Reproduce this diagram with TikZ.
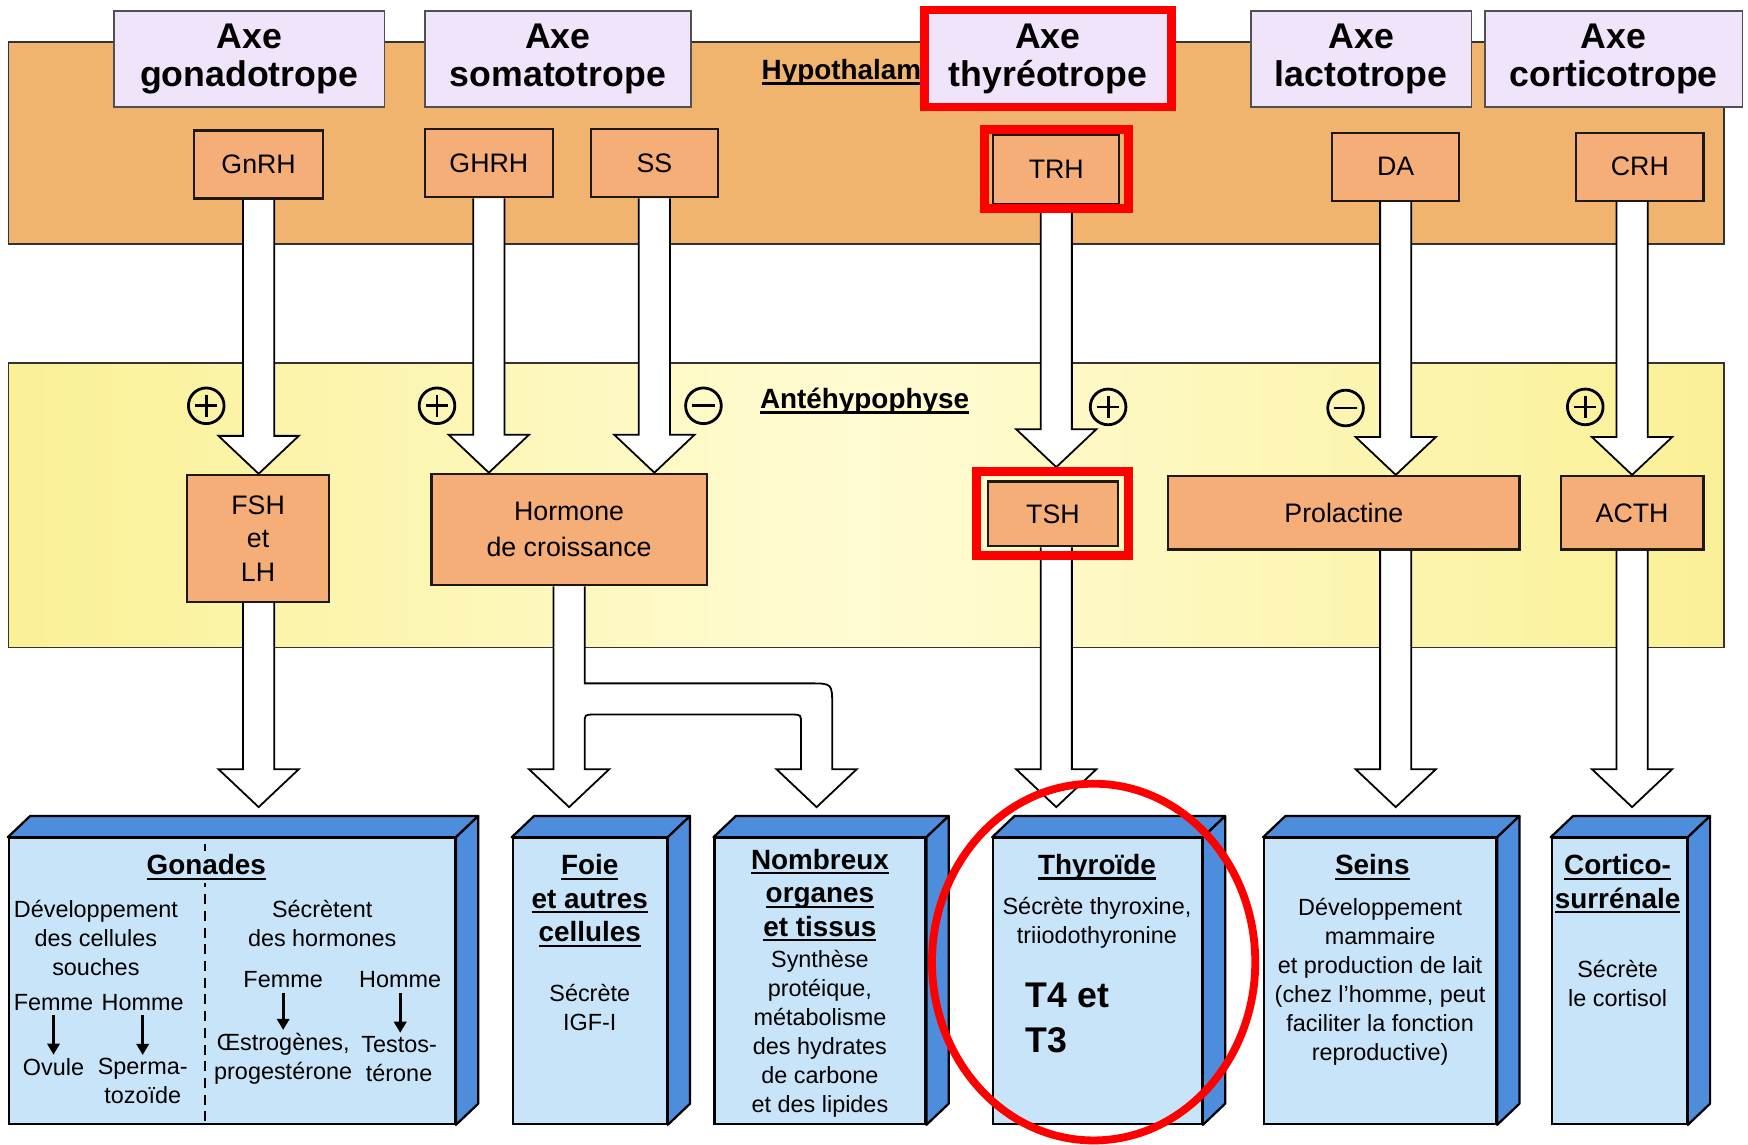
\documentclass[tikz,border=0pt]{standalone}
\usepackage{fontspec}
\setmainfont{Liberation Sans}
\usetikzlibrary{calc,arrows.meta}
\pgfdeclarelayer{back}
\pgfdeclarelayer{mid}
\pgfsetlayers{back,mid,main}
\definecolor{hypofill}{RGB}{240,180,110}
\definecolor{antey}{RGB}{250,240,150}
\definecolor{anteyc}{RGB}{255,252,212}
\definecolor{axefill}{RGB}{240,228,250}
\definecolor{axeline}{RGB}{80,80,80}
\definecolor{hormfill}{RGB}{246,174,120}
\definecolor{boxline}{RGB}{30,25,20}
\definecolor{frontblue}{RGB}{200,228,248}
\definecolor{sideblue}{RGB}{78,140,220}
\newsavebox\ulbox
\newcommand\ulx[1]{\sbox\ulbox{#1}\rlap{\rule[-4.5pt]{\wd\ulbox}{2pt}}\usebox\ulbox}
\newcommand\fatarrow[4]{%
  \draw[fat] let \p3=(#1.center), \p1=(#2.south), \p2=(#3.north) in
  (\x3-14pt,\y1) -- (\x3-14pt,\y2+#4pt+34pt) -- (\x3-36pt,\y2+#4pt+34pt) -- (\x3,\y2+#4pt)
  -- (\x3+36pt,\y2+#4pt+34pt) -- (\x3+14pt,\y2+#4pt+34pt) -- (\x3+14pt,\y1);}
\newcommand\bluebox[3]{%
  \node[front=#3] (#1) at (#2,880) {};
  \draw[face] (#1.north west) -- ++(20,-19) -- ([shift={(20,-19)}]#1.north east) -- (#1.north east) -- cycle;
  \draw[face] (#1.north east) -- ++(20,-19) -- ([shift={(20,-19)}]#1.south east) -- (#1.south east) -- cycle;}
\newcommand\plusnode[2]{%
  \node[pm] (#1) at (#2) {};
  \draw[line width=2.5pt] ([xshift=-10pt]#1.center) -- ([xshift=10pt]#1.center)
    ([yshift=-10pt]#1.center) -- ([yshift=10pt]#1.center);}
\newcommand\minusnode[2]{%
  \node[pm] (#1) at (#2) {};
  \draw[line width=2.5pt] ([xshift=-10pt]#1.center) -- ([xshift=10pt]#1.center);}
\begin{document}
\begin{tikzpicture}[x=1pt,y=-1pt,
  axebox/.style={draw=axeline, fill=axefill, line width=1.5pt, inner sep=0pt, minimum height=86pt, align=center, font=\fontsize{32}{34}\selectfont\bfseries},
  hbox/.style={draw=boxline, fill=hormfill, line width=2pt, inner sep=0pt, align=center, font=\fontsize{24}{30}\selectfont},
  front/.style={draw=black, fill=frontblue, line width=2pt, inner sep=0pt, minimum height=256pt, minimum width=#1},
  face/.style={draw=black, fill=sideblue, line width=2pt, line join=round},
  fat/.style={draw=black, fill=white, line width=1.6pt, line join=miter},
  pm/.style={circle, draw=black, line width=2.5pt, minimum size=32pt, inner sep=0pt},
  btitle/.style={align=center, inner sep=0pt, font=\fontsize{25}{30}\selectfont\bfseries},
  btext/.style={align=center, inner sep=0pt, font=\fontsize{21}{26}\selectfont},
  redframe/.style={draw=red, line width=8pt},
  sarr/.style={-{Triangle[length=10pt,width=11pt]}, line width=2.5pt, shorten >=3pt},
  lbl/.style={inner sep=0pt, font=\fontsize{25}{30}\selectfont\bfseries}
]
\useasboundingbox (0,0) rectangle (1568,1027);
\begin{pgfonlayer}{back}
  \node[draw=black!80, line width=1.5pt, fill=hypofill, minimum width=1539pt, minimum height=181pt, inner sep=0pt, anchor=north west] (hyp) at (7,37) {};
  \node[draw=black!80, line width=1.5pt, left color=antey, right color=antey, middle color=anteyc, minimum width=1539pt, minimum height=255pt, inner sep=0pt, anchor=north west] (ante) at (7,325) {};
  \node[lbl, anchor=west] (hyplbl) at (683,65) {\ulx{Hypothalamus}};
\end{pgfonlayer}
% axes
\node[axebox, minimum width=243pt] (axg) at (223.5,53) {Axe\\gonadotrope};
\node[axebox, minimum width=239pt] (axs) at (500.5,53) {Axe\\somatotrope};
\node[axebox, draw=red, line width=8pt, minimum width=222pt, minimum height=87pt] (axt) at (940,52.5) {Axe\\thyréotrope};
\node[axebox, minimum width=198pt] (axl) at (1221,53) {Axe\\lactotrope};
\node[axebox, minimum width=231pt] (axc) at (1447.5,53) {Axe\\corticotrope};
% hypothalamic hormones
\node[hbox, minimum width=116pt, minimum height=61pt] (gnrh) at (232,147.5) {GnRH};
\node[hbox, minimum width=115pt, minimum height=61pt] (ghrh) at (438.5,146.5) {GHRH};
\node[hbox, minimum width=114pt, minimum height=61pt] (ss) at (587,146.5) {SS};
\node[hbox, minimum width=113pt, minimum height=62pt] (trh) at (947.5,152) {TRH};
\node[hbox, minimum width=114pt, minimum height=61pt] (da) at (1252,149.5) {DA};
\node[hbox, minimum width=114pt, minimum height=61pt] (crh) at (1471,149.5) {CRH};
% pituitary
\node[lbl] (antlbl) at (775.5,360) {\ulx{Antéhypophyse}};
\node[hbox, minimum width=127pt, minimum height=114pt] (fsh) at (231.5,483) {FSH\\et\\LH};
\node[hbox, minimum width=247pt, minimum height=100pt, font=\fontsize{24}{32}\selectfont] (gh) at (510.5,475) {Hormone\\de croissance};
\node[hbox, minimum width=117pt, minimum height=58pt] (tsh) at (944.5,461) {TSH};
\node[hbox, minimum width=315pt, minimum height=66pt] (prl) at (1205.5,460) {Prolactine};
\node[hbox, minimum width=128pt, minimum height=66pt] (acth) at (1464,460) {ACTH};
\plusnode{p1}{185,364}
\plusnode{p2}{392,364}
\minusnode{m1}{631,364}
\plusnode{p3}{994,365}
\minusnode{m2}{1207,366}
\plusnode{p4}{1422,365}
% target boxes
\bluebox{gon}{208}{400pt}
\bluebox{foie}{529}{138pt}
\bluebox{nomb}{735.5}{189pt}
\bluebox{thy}{984.5}{187pt}
\bluebox{seins}{1238}{208pt}
\bluebox{cort}{1452.5}{121pt}
\draw[dash pattern=on 9pt off 6pt, line width=1.5pt] ([xshift=-24pt,yshift=-6pt]gon.north) -- ([xshift=-24pt]gon.south);
\node[btitle, fill=frontblue, inner sep=3pt] (gont) at (185,778) {\ulx{Gonades}};
\node[btext] (gl) at (86,841) {Développement\\des cellules\\souches};
\node[btext] (gr) at (289,828) {Sécrètent\\des hormones};
\node[btext] (f1) at (48,899) {Femme};
\node[btext] (h1) at (128,899) {Homme};
\node[btext] (ov) at (48,957) {Ovule};
\node[btext] (sp) at (128,970) {Sperma-\\tozoïde};
\node[btext] (f2) at (254,879) {Femme};
\node[btext] (h2) at (359,879) {Homme};
\node[btext] (oe) at (254,950) {Œstrogènes,\\progestérone};
\node[btext] (te) at (358,950) {Testos-\\térone};
\draw[sarr] ([yshift=-4pt]f1.south) -- (f1.south |- ov.north);
\draw[sarr] ([yshift=-4pt]h1.south) -- (h1.south |- sp.north);
\draw[sarr] ([yshift=-4pt]f2.south) -- (f2.south |- oe.north);
\draw[sarr] ([yshift=-4pt]h2.south) -- (h2.south |- te.north);
\node[btitle] (foiet) at (529,808) {\ulx{Foie}\\\ulx{et autres}\\\ulx{cellules}};
\node[btext] (foieb) at (529,903.5) {Sécrète\\IGF-I};
\node[btitle] (nombt) at (735.5,803) {\ulx{Nombreux}\\\ulx{organes}\\\ulx{et tissus}};
\node[btext] (nombb) at (735.5,927) {Synthèse\\protéique,\\métabolisme\\des hydrates\\de carbone\\et des lipides};
\node[btitle] (thyt) at (984,778) {\ulx{Thyroïde}};
\node[btext] (thyb) at (984,828) {Sécrète thyroxine,\\triiodothyronine};
\node[align=left, anchor=west, inner sep=0pt, font=\fontsize{32}{41}\selectfont\bfseries] (t4) at (920,913) {T4 et\\T3};
\node[btitle] (seinst) at (1231,778) {\ulx{Seins}};
\node[btext] (seinsb) at (1238,880.5) {Développement\\mammaire\\et production de lait\\(chez l’homme, peut\\faciliter la fonction\\reproductive)};
\node[btitle] (cortt) at (1451,793) {\ulx{Cortico-}\\\ulx{surrénale}};
\node[btext] (cortb) at (1451,882) {Sécrète\\le cortisol};
% fat arrows
\begin{pgfonlayer}{mid}
\fatarrow{gnrh}{gnrh}{fsh}{0}
\fatarrow{ghrh}{ghrh}{gh}{0}
\fatarrow{ss}{ss}{gh}{0}
\fatarrow{trh}{trh}{tsh}{12}
\fatarrow{da}{da}{prl}{0}
\fatarrow{acth}{crh}{acth}{0}
\fatarrow{gnrh}{fsh}{gon}{27}
\fatarrow{trh}{tsh}{thy}{27}
\fatarrow{da}{prl}{seins}{27}
\fatarrow{acth}{acth}{cort}{27}
\draw[fat] let \p1=(gh.south), \p2=(foie.north), \p3=(nomb.north) in
  (\x1-14pt,\y1) -- (\x1-14pt,\y2+61pt) -- (\x1-36pt,\y2+61pt) -- (\x1,\y2+27pt)
  -- (\x1+36pt,\y2+61pt) -- (\x1+14pt,\y2+61pt)
  -- (\x1+14pt,\y1-123pt) .. controls (\x1+14pt,\y1-115pt) .. (\x1+22pt,\y1-115pt)
  -- (\x3-25pt,\y1-115pt) .. controls (\x3-17pt,\y1-115pt) .. (\x3-17pt,\y1-123pt)
  -- (\x3-17pt,\y2+61pt) -- (\x3-39pt,\y2+61pt) -- (\x3-3pt,\y2+27pt)
  -- (\x3+33pt,\y2+61pt) -- (\x3+11pt,\y2+61pt)
  -- (\x3+11pt,\y1-107pt) .. controls (\x3+11pt,\y1-87pt) .. (\x3-9pt,\y1-87pt)
  -- (\x1+14pt,\y1-87pt) -- (\x1+14pt,\y1);
\end{pgfonlayer}
% highlights
\draw[redframe] ([shift={(-7,3)}]trh.south west) rectangle ([shift={(7,-4)}]trh.north east);
\draw[redframe] ([shift={(-9,7)}]tsh.south west) rectangle ([shift={(8,-8)}]tsh.north east);
\draw[red, line width=7pt] (981,863) ellipse [x radius=145pt, y radius=160pt];
\end{tikzpicture}
\end{document}
